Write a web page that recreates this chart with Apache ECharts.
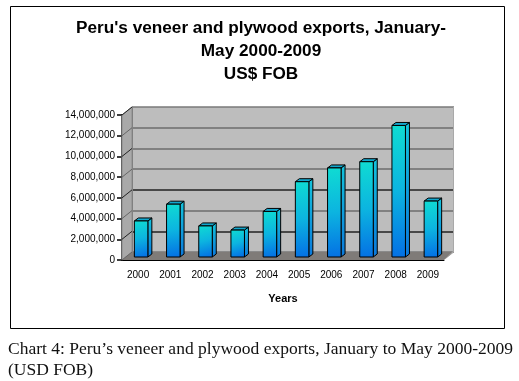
<!DOCTYPE html>
<html>
<head>
<meta charset="utf-8">
<title>Peru veneer and plywood exports</title>
<style>
html, body { margin: 0; padding: 0; background: #fff; }
#chart { width: 519px; height: 381px; }
</style>
<script src="https://cdn.jsdelivr.net/npm/echarts@6/dist/echarts.min.js"></script>
</head>
<body>
<div id="chart"></div>
<script>
var years = ['2000', '2001', '2002', '2003', '2004', '2005', '2006', '2007', '2008', '2009'];
var exportsUsd = [3480000, 5100000, 3000000, 2600000, 4400000, 7270000, 8600000, 9200000, 12700000, 5400000];
var tickValues = [0, 2000000, 4000000, 6000000, 8000000, 10000000, 12000000, 14000000];
var gridColors = ['#7a7a7a', '#222222', '#6e6e6e', '#222222', '#6e6e6e', '#6e6e6e', '#6e6e6e', '#7a7a7a'];

var depthX = 10, depthY = -8;   // depth of the fake 3d box
var chart = echarts.init(document.getElementById('chart'));

// side wall, with its slanted tick lines
function renderWall(params, api) {
    var p = api.coord([0, api.value(0)]);
    var leftEdge = params.coordSys.x;
    var children = [{
        type: 'line',
        shape: { x1: leftEdge, y1: p[1], x2: leftEdge + depthX, y2: p[1] + depthY },
        style: { stroke: api.value(0) % 4000000 === 2000000 ? '#222' : '#666', lineWidth: 1 }
    }];
    if (params.dataIndex === 0) {
        var x = params.coordSys.x, y = params.coordSys.y, w = params.coordSys.width, h = params.coordSys.height;
        children.unshift({
            type: 'polygon',
            shape: { points: [[x, y + h], [x, y], [x + depthX, y + depthY], [x + depthX, y + h + depthY]] },
            style: { fill: '#a9a9a9', stroke: '#8a8a8a', lineWidth: 1 }
        }, {
            type: 'polygon',
            shape: { points: [[x, y + h], [x + depthX, y + h + depthY], [x + w + depthX, y + h + depthY], [x + w, y + h]] },
            style: { fill: '#7f7b78' }
        }, {
            type: 'polygon',
            shape: { points: [[x + w, y + h], [x + w + depthX, y + h + depthY], [x + w + depthX, y + depthY], [x + w + depthX - 1, y + depthY], [x + w + depthX - 1, y + h + depthY - 1]] },
            style: { fill: '#a9a9a9' }
        });
    }
    return { type: 'group', children: children };
}

// one bar: front, side and top faces
function renderBar(params, api) {
    var base = api.coord([api.value(0), 0]);
    var top = api.coord([api.value(0), api.value(1)]);
    var w = 13.5, dx = 4, dy = -3;
    var x0 = base[0] + 3 - w / 2, x1 = x0 + w;
    var yb = base[1] - 3, yt = top[1] - 3;
    var line = { stroke: '#000', lineWidth: 1 };
    return {
        type: 'group',
        children: [{
            type: 'polygon',
            shape: { points: [[x1, yb], [x1 + dx, yb + dy], [x1 + dx, yt + dy], [x1, yt]] },
            style: Object.assign({
                fill: new echarts.graphic.LinearGradient(0, 0, 0, 1, [
                    { offset: 0, color: '#14c4dc' }, { offset: 1, color: '#0a78dc' }
                ])
            }, line)
        }, {
            type: 'polygon',
            shape: { points: [[x0, yt], [x0 + dx, yt + dy], [x1 + dx, yt + dy], [x1, yt]] },
            style: Object.assign({ fill: '#12a6cc' }, line)
        }, {
            type: 'rect',
            shape: { x: x0, y: yt, width: w, height: yb - yt },
            style: Object.assign({
                fill: new echarts.graphic.LinearGradient(0, 0, 0.6, 1, [
                    { offset: 0, color: '#0fdcd2' }, { offset: 0.5, color: '#0cb4e0' }, { offset: 1, color: '#0470e4' }
                ])
            }, line)
        }]
    };
}

var option = {
    animation: false,
    backgroundColor: '#fff',
    title: [{
        text: "Peru's veneer and plywood exports, January-\nMay 2000-2009\nUS$ FOB",
        left: 256,
        top: 12,
        textAlign: 'center',
        textStyle: { fontFamily: 'Liberation Sans', fontSize: 17.2, fontWeight: 'bold', color: '#000', lineHeight: 23 }
    }, {
        text: 'Chart 4: Peru’s veneer and plywood exports, January to May 2000-2009\n(USD FOB)',
        left: 3,
        top: 334,
        textStyle: { fontFamily: 'Liberation Serif', fontSize: 17.5, fontWeight: 'normal', color: '#111', lineHeight: 21 }
    }],
    graphic: [{
        type: 'rect',
        z: -10,
        shape: { x: 10.5, y: 6.5, width: 494, height: 322 },
        style: { fill: 'none', stroke: '#000', lineWidth: 1 }
    }],
    grid: [
        { left: 122, top: 115, width: 322, height: 145, z: 3 },
        // back wall, same scale pushed back by the box depth
        { left: 132, top: 107, width: 322, height: 145, show: true, backgroundColor: '#bdbdbd', borderWidth: 0 }
    ],
    xAxis: [{
        gridIndex: 0,
        type: 'category',
        data: years,
        name: 'Years',
        nameLocation: 'middle',
        nameGap: 33,
        nameTextStyle: { fontFamily: 'Liberation Sans', fontSize: 11, fontWeight: 'bold', color: '#000' },
        axisLine: { lineStyle: { color: '#000', width: 1 } },
        axisTick: { alignWithLabel: false, length: 5, lineStyle: { color: '#000' } },
        axisLabel: { fontFamily: 'Liberation Sans', fontSize: 10, color: '#000', margin: 10 }
    }, {
        gridIndex: 1,
        type: 'category',
        data: years,
        show: false
    }],
    yAxis: [{
        gridIndex: 0,
        type: 'value',
        min: 0,
        max: 14000000,
        interval: 2000000,
        axisLine: { show: true, lineStyle: { color: '#000', width: 1.5 } },
        axisTick: { show: true, length: 5, lineStyle: { color: '#000', width: 1.5 } },
        axisLabel: {
            fontFamily: 'Liberation Sans', fontSize: 10, color: '#000', margin: 7,
            formatter: function (v) { return v.toLocaleString('en-US'); }
        },
        splitLine: { show: false }
    }, {
        gridIndex: 1,
        type: 'value',
        min: 0,
        max: 14000000,
        interval: 2000000,
        axisLine: { show: true, lineStyle: { color: '#777', width: 1 } },
        axisTick: { show: false },
        axisLabel: { show: false },
        splitLine: { show: true, lineStyle: { color: gridColors, width: 1.5 } }
    }],
    series: [{
        type: 'custom',
        xAxisIndex: 0,
        yAxisIndex: 0,
        z: 1,
        silent: true,
        clip: false,
        renderItem: renderWall,
        encode: { y: 0 },
        data: tickValues.map(function (v) { return [v]; })
    }, {
        type: 'custom',
        xAxisIndex: 0,
        yAxisIndex: 0,
        z: 5,
        silent: true,
        clip: false,
        renderItem: renderBar,
        encode: { x: 0, y: 1 },
        data: exportsUsd.map(function (v, i) { return [i, v]; })
    }]
};
chart.setOption(option);
</script>
</body>
</html>
